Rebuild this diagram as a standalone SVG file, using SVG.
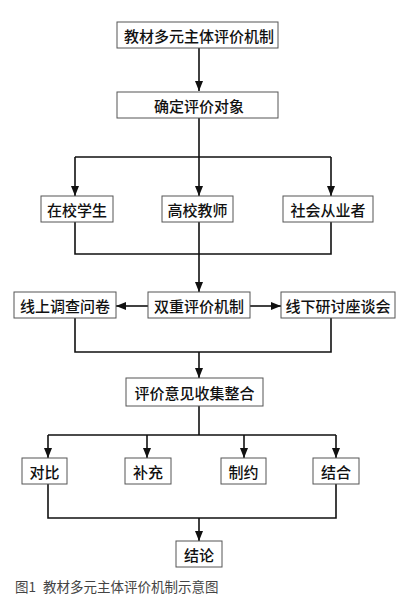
<svg xmlns="http://www.w3.org/2000/svg" width="406" height="600" viewBox="0 0 406 600">
<style>
.box{fill:#fff;stroke:#555;stroke-width:1}
.t{font-family:"Noto Sans CJK SC","Noto Sans",sans-serif;font-size:15px;font-weight:500;fill:#111;text-anchor:middle;dominant-baseline:central}
.c{fill:none;stroke:#111;stroke-width:1.6}
.cap{font-family:"Noto Sans CJK SC","Noto Sans",sans-serif;font-size:13.5px;fill:#444}
</style>
<defs>
<marker id="ah" viewBox="0 0 10 10" refX="10" refY="5" markerWidth="10" markerHeight="10" markerUnits="userSpaceOnUse" orient="auto">
<path d="M0,1 L10,5 L0,9 Z" fill="#111"/>
</marker>
</defs>
<rect width="406" height="600" fill="#fff"/>
<g id="connectors">
<path class="c" d="M199,48 V91" marker-end="url(#ah)"/>
<path class="c" d="M199,118 V157 M75,157 H331"/>
<path class="c" d="M75,157 V196" marker-end="url(#ah)"/>
<path class="c" d="M199,157 V196" marker-end="url(#ah)"/>
<path class="c" d="M331,157 V196" marker-end="url(#ah)"/>
<path class="c" d="M75,222 V254 H331 V222 M199,222 V254"/>
<path class="c" d="M199,254 V292" marker-end="url(#ah)"/>
<path class="c" d="M148,306 H116" marker-end="url(#ah)"/>
<path class="c" d="M250,306 H281" marker-end="url(#ah)"/>
<path class="c" d="M75,318 V352 H331 V318"/>
<path class="c" d="M199,352 V378" marker-end="url(#ah)"/>
<path class="c" d="M199,406 V435 M48,435 H336"/>
<path class="c" d="M48,435 V458" marker-end="url(#ah)"/>
<path class="c" d="M147,435 V458" marker-end="url(#ah)"/>
<path class="c" d="M244,435 V458" marker-end="url(#ah)"/>
<path class="c" d="M336,435 V458" marker-end="url(#ah)"/>
<path class="c" d="M48,484 V518 H336 V484"/>
<path class="c" d="M199,518 V541" marker-end="url(#ah)"/>
</g>
<g id="n1"><rect class="box" x="117" y="22" width="161" height="26"/><text class="t" x="199" y="35">教材多元主体评价机制</text></g>
<g id="n2"><rect class="box" x="117" y="92" width="161" height="26"/><text class="t" x="199" y="105">确定评价对象</text></g>
<g id="n3"><rect class="box" x="41" y="196" width="72" height="26"/><text class="t" x="77" y="209">在校学生</text></g>
<g id="n4"><rect class="box" x="162" y="196" width="71" height="26"/><text class="t" x="197.5" y="209">高校教师</text></g>
<g id="n5"><rect class="box" x="283" y="196" width="90" height="26"/><text class="t" x="328" y="209">社会从业者</text></g>
<g id="n6"><rect class="box" x="14" y="292" width="102" height="26"/><text class="t" x="65" y="305">线上调查问卷</text></g>
<g id="n7"><rect class="box" x="148" y="292" width="102" height="26"/><text class="t" x="199" y="305">双重评价机制</text></g>
<g id="n8"><rect class="box" x="281" y="292" width="114" height="26"/><text class="t" x="338" y="305">线下研讨座谈会</text></g>
<g id="n9"><rect class="box" x="126" y="378" width="137" height="28"/><text class="t" x="194.5" y="392">评价意见收集整合</text></g>
<g id="n10"><rect class="box" x="22" y="458" width="45" height="26"/><text class="t" x="44.5" y="471">对比</text></g>
<g id="n11"><rect class="box" x="125" y="458" width="46" height="26"/><text class="t" x="148" y="471">补充</text></g>
<g id="n12"><rect class="box" x="221" y="458" width="45" height="26"/><text class="t" x="243.5" y="471">制约</text></g>
<g id="n13"><rect class="box" x="313" y="458" width="46" height="26"/><text class="t" x="336" y="471">结合</text></g>
<g id="n14"><rect class="box" x="176" y="541" width="46" height="26"/><text class="t" x="199" y="554">结论</text></g>
<text class="cap" x="15" y="592">图1<tspan x="43">教材多元主体评价机制示意图</tspan></text>
</svg>
